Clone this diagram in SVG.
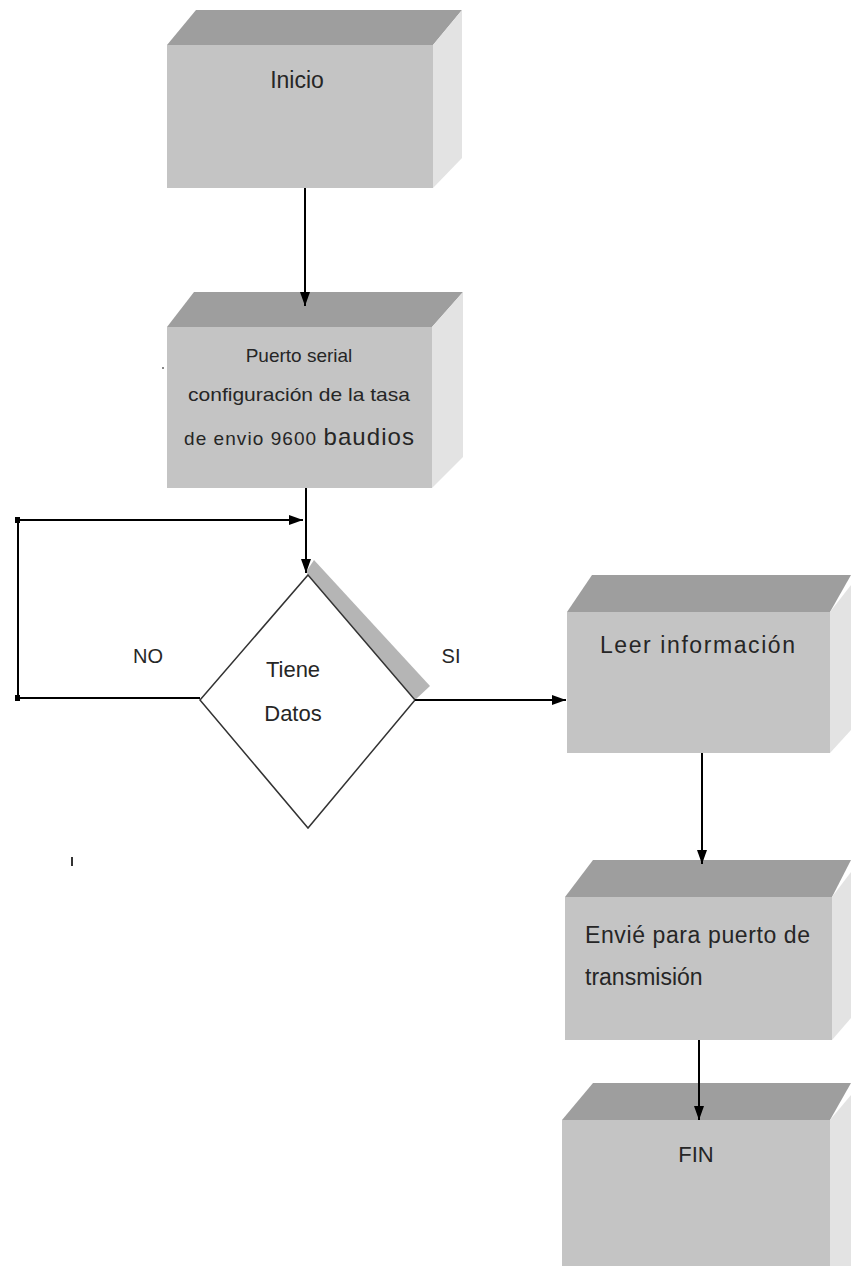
<svg xmlns="http://www.w3.org/2000/svg" width="851" height="1266" viewBox="0 0 851 1266">
<defs>
<style>
.top{fill:#9e9e9e}
.front{fill:#c4c4c4}
.side{fill:#e3e3e3}
.t{font-family:"Liberation Sans",Arial,sans-serif;fill:#262626}
.ln{stroke:#000;stroke-width:2;fill:none}
</style>
<marker id="ah" viewBox="0 0 14 10" markerWidth="14" markerHeight="10" refX="14" refY="5" orient="auto" markerUnits="userSpaceOnUse">
<path d="M0,0 L14,5 L0,10 z" fill="#000"/>
</marker>
</defs>
<rect width="851" height="1266" fill="#fff"/>

<g id="inicio">
<polygon class="top" points="167,45 196,10 462,10 433,45"/>
<polygon class="side" points="433,45 462,10 462,158 433,188"/>
<rect class="front" x="167" y="45" width="266" height="143"/>
<text class="t" x="297" y="88" font-size="23" text-anchor="middle">Inicio</text>
</g>

<g id="puerto">
<polygon class="top" points="167,327 194,292 463,292 432,327"/>
<polygon class="side" points="432,327 463,292 463,457 432,488"/>
<rect class="front" x="167" y="327" width="265" height="161"/>
<text class="t" x="299" y="362" font-size="19" text-anchor="middle">Puerto serial</text>
<text class="t" x="299" y="401" font-size="19" text-anchor="middle" textLength="222" lengthAdjust="spacingAndGlyphs">configuración de la tasa</text>
<text class="t" x="184" y="445" font-size="19" textLength="230" lengthAdjust="spacing">de envio 9600  <tspan font-size="24">baudios</tspan></text>
</g>

<g id="decision">
<polygon points="306,572 314,560 430,686 415,700" fill="#b5b5b5"/>
<polygon points="308,575 415,700 308,828 200,700" fill="#fff" stroke="#333" stroke-width="1.5"/>
<text class="t" x="293" y="677" font-size="22" text-anchor="middle">Tiene</text>
<text class="t" x="293" y="721" font-size="22" text-anchor="middle">Datos</text>
</g>

<g id="leer">
<polygon class="top" points="567,612 592,575 851,575 830,612"/>
<polygon class="side" points="830,612 851,585 851,730 830,753"/>
<rect class="front" x="567" y="612" width="263" height="141"/>
<text class="t" x="600" y="653" font-size="23" textLength="195" lengthAdjust="spacing">Leer  información</text>
</g>

<g id="envie">
<polygon class="top" points="565,897 593,860 851,860 832,897"/>
<polygon class="side" points="832,897 851,872 851,1018 832,1040"/>
<rect class="front" x="565" y="897" width="267" height="143"/>
<text class="t" x="585" y="943" font-size="23" textLength="225" lengthAdjust="spacing">Envié para puerto de</text>
<text class="t" x="585" y="985" font-size="23">transmisión</text>
</g>

<g id="fin">
<polygon class="top" points="562,1120 593,1083 851,1083 830,1120"/>
<polygon class="side" points="830,1120 851,1095 851,1266 830,1266"/>
<rect class="front" x="562" y="1120" width="268" height="146"/>
<text class="t" x="696" y="1162" font-size="22" text-anchor="middle">FIN</text>
</g>

<g id="connectors">
<line class="ln" x1="305" y1="188" x2="305" y2="306" marker-end="url(#ah)"/>
<line class="ln" x1="306" y1="488" x2="306" y2="573" marker-end="url(#ah)"/>
<polyline class="ln" points="200,698 18,698 18,520 303,520" marker-end="url(#ah)"/>
<rect x="15" y="517" width="5" height="6" fill="#000"/>
<rect x="15" y="695" width="5" height="6" fill="#000"/>
<line class="ln" x1="415" y1="700" x2="566" y2="700" marker-end="url(#ah)"/>
<line class="ln" x1="702" y1="753" x2="702" y2="864" marker-end="url(#ah)"/>
<line class="ln" x1="699" y1="1040" x2="699" y2="1120" marker-end="url(#ah)"/>
</g>

<g id="labels">
<text class="t" x="148" y="663" font-size="20" text-anchor="middle">NO</text>
<text class="t" x="451" y="663" font-size="20" text-anchor="middle">SI</text>
</g>
<rect x="71" y="857" width="2" height="9" fill="#333"/>
<rect x="162" y="367" width="2" height="2" fill="#888"/>
</svg>
